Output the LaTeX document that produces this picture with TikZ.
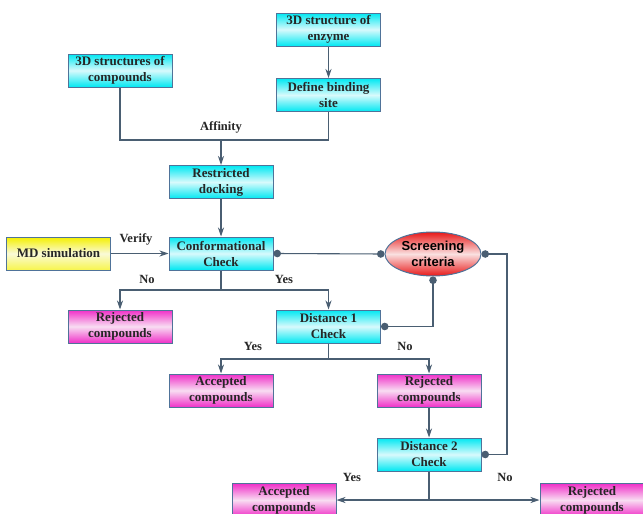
\documentclass[tikz,border=0pt]{standalone}
\usepackage{fontspec}
\setmainfont{Liberation Serif}
\newfontfamily\arialfont{Liberation Sans}
\usetikzlibrary{arrows.meta,shapes.geometric}
\definecolor{edgec}{HTML}{4A5E72}
\definecolor{bordc}{HTML}{4F7399}
\definecolor{cyanc}{HTML}{00E8F2}
\definecolor{cyanm}{HTML}{D8FAFC}
\definecolor{magc}{HTML}{F030C8}
\definecolor{magm}{HTML}{F8DDF2}
\definecolor{yelc}{HTML}{F4F000}
\definecolor{yelm}{HTML}{FAFAD8}
\definecolor{redc}{HTML}{E81818}
\definecolor{redm}{HTML}{FAE0E0}
\tikzset{
  box/.style={draw=bordc, line width=1pt, minimum width=104pt, minimum height=33pt,
    inner sep=1pt, align=center, font=\fontsize{13}{16}\selectfont\bfseries, text=black!85},
  cbox/.style={box, top color=cyanc, bottom color=cyanc, middle color=cyanm},
  mbox/.style={box, top color=magc, bottom color=magc, middle color=magm},
  ybox/.style={box, top color=yelc, bottom color=yelc!70!white, middle color=yelm},
  conn/.style={draw=edgec, line width=1.1pt},
  arr/.style={conn, -{Stealth[length=9pt,width=6pt]}},
  dots/.style={conn, {Circle[length=7.5pt]}-{Circle[length=7.5pt]}},
  lbl/.style={font=\fontsize{12.5}{14}\selectfont\bfseries, text=black!85}
}
\begin{document}
\begin{tikzpicture}[x=1pt,y=-1pt]
\useasboundingbox (0,0) rectangle (643,514);
\node[cbox] (enz) at (328.5,29.5) {3D structure of\\enzyme};
\node[cbox] (bind) at (328.5,95) {Define binding\\site};
\node[cbox] (comp) at (120,70.5) {3D structures of\\compounds};
\node[cbox] (dock) at (221,182) {Restricted\\docking};
\node[ybox] (md) at (58.5,253.5) {MD simulation};
\node[cbox] (conf) at (221,253.5) {Conformational\\Check};
\node[ellipse, draw=bordc, line width=1pt, minimum width=96pt, minimum height=44pt, inner sep=0pt,
  top color=redc, bottom color=redc, middle color=redm, align=center,
  font=\arialfont\fontsize{13}{15.5}\selectfont\bfseries] (scr) at (433,254) {Screening\\criteria};
\node[mbox] (rej1) at (120,326.5) {Rejected\\compounds};
\node[cbox] (d1) at (328.5,326.5) {Distance 1\\Check};
\node[mbox] (acc1) at (221,390.5) {Accepted\\compounds};
\node[mbox] (rej2) at (429,390.5) {Rejected\\compounds};
\node[cbox] (d2) at (429,454.5) {Distance 2\\Check};
\node[mbox] (acc2) at (284,500) {Accepted\\compounds};
\node[mbox] (rej3) at (592,500) {Rejected\\compounds};

\coordinate (j1) at (221,140);
\coordinate (j2) at (221,290);
\coordinate (j3) at (328.5,359);
\coordinate (j4) at (429,500);
\coordinate (rail) at (507,254);

\draw[arr] (enz) -- (bind);
\draw[conn] (comp.south) |- (j1) -| (bind.south);
\draw[arr] (j1) -- (dock);
\node[lbl] (aff) at (221,127) {Affinity};
\draw[arr] (dock) -- (conf);
\draw[arr] (md) -- (conf);
\node[lbl] (ver) at (136,239) {Verify};
\draw[dots] (conf.east) -- (scr.west);
\draw[conn] (conf.south) -- (j2);
\draw[arr] (j2) -| (rej1.north);
\draw[arr] (j2) -| (d1.north);
\node[lbl] (no1) at (147,279) {No};
\node[lbl] (yes1) at (284,279) {Yes};
\draw[dots] (scr.south) |- (d1.east);
\draw[dots] (scr.east) -- (rail) |- (d2.east);
\draw[conn] (d1.south) -- (j3);
\draw[arr] (j3) -| (acc1.north);
\draw[arr] (j3) -| (rej2.north);
\node[lbl] (yes2) at (253,346) {Yes};
\node[lbl] (no2) at (405,346) {No};
\draw[arr] (rej2) -- (d2);
\draw[conn] (d2.south) -- (j4);
\draw[arr] (j4) -- (acc2.east);
\draw[arr] (j4) -- (rej3.west);
\node[lbl] (yes3) at (352,477) {Yes};
\node[lbl] (no3) at (505,477) {No};
\end{tikzpicture}
\end{document}
